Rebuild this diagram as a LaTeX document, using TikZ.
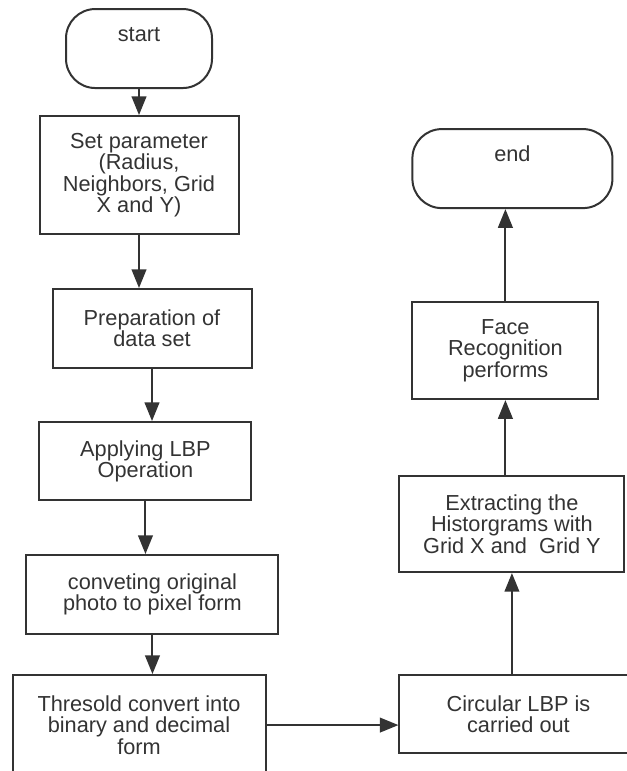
\documentclass[tikz,border=0pt]{standalone}
\usepackage{fontspec}
\setmainfont{Liberation Sans}
\usetikzlibrary{arrows.meta}
\definecolor{linegray}{HTML}{333333}
\begin{document}
\begin{tikzpicture}[->,>={Triangle[length=14pt,width=11pt]},line width=1.5pt,color=linegray,
  box/.style={rectangle,draw,text=linegray,align=center,inner sep=0pt,font=\fontsize{16.3}{16}\selectfont},
  term/.style={box,rounded corners=22pt,text height=12pt,text depth=22pt}]

  \useasboundingbox (0,0) rectangle (470.25pt,-578.25pt);
  \clip (0,0) rectangle (470.25pt,-578.25pt);

  % left column, top to bottom
  \node[term,minimum width=109.5pt,minimum height=59.25pt] (start) at (104.25pt,-36.4pt) {start};
  \node[box,minimum width=149.25pt,minimum height=88.5pt] (setpar) [node distance=94.9pt] [below of=start] {Set parameter\\(Radius,\\Neighbors, Grid\\X and Y)};
  \node[box,minimum width=149.25pt,minimum height=59.25pt] (prep) [node distance=115.1pt] [below of=setpar,xshift=9.75pt] {Preparation of\\data set};
  \node[box,minimum width=159pt,minimum height=58.5pt] (apply) [node distance=99.4pt] [below of=prep,xshift=-4.9pt] {Applying LBP\\Operation};
  \node[box,minimum width=189pt,minimum height=59.25pt] (conv) [node distance=100.1pt] [below of=apply,xshift=5.25pt] {conveting original\\photo to pixel form};
  \node[box,minimum width=189.75pt,minimum height=75pt] (thresh) [node distance=97.9pt] [below of=conv,xshift=-10.1pt] {Thresold convert into\\binary and decimal\\form};

  % right column, bottom to top
  \node[box,minimum width=178.5pt,minimum height=58.5pt] (circ) [node distance=284.6pt] [right of=thresh,yshift=8.25pt] {Circular LBP is\\carried out};
  \node[box,minimum width=168.75pt,minimum height=72pt] (extract) [node distance=142.5pt] [above of=circ,xshift=-4.9pt] {Extracting the\\Historgrams with\\Grid X and~ Grid Y};
  \node[box,minimum width=139.5pt,minimum height=72.75pt] (face) [node distance=130.1pt] [above of=extract,xshift=-4.9pt] {Face\\Recognition\\performs};
  \node[term,minimum width=150pt,minimum height=59.25pt] (finish) [node distance=136.5pt] [above of=face,xshift=5.25pt] {end};

  \path
    (start) edge (start |- setpar.north)
    (setpar) edge (setpar |- prep.north)
    (prep) edge (prep |- apply.north)
    (apply) edge (apply |- conv.north)
    (conv) edge (conv |- thresh.north)
    (thresh) edge (thresh -| circ.west)
    (circ.north -| extract) edge (extract)
    (extract.north -| face) edge (face)
    (face) edge (face |- finish.south);
\end{tikzpicture}
\end{document}
